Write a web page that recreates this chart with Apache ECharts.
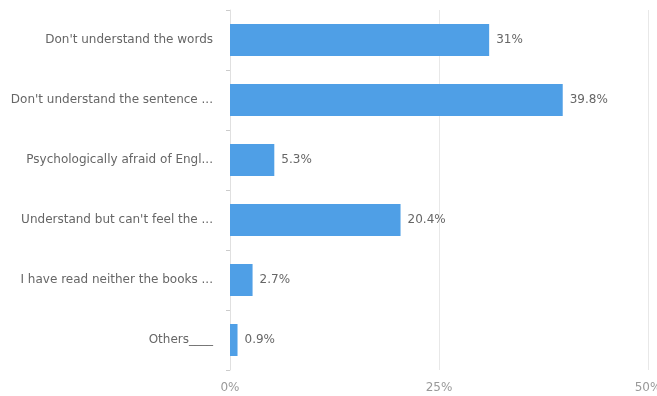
<!DOCTYPE html>
<html><head><meta charset="utf-8">
<script src="https://cdn.jsdelivr.net/npm/echarts@6/dist/echarts.min.js"></script>
<style>html,body{margin:0;padding:0;background:#fff}#c{width:657px;height:396px}</style>
</head><body><div id="c"></div>
<script>
var categories = ["Don't understand the words", "Don't understand the sentence ...", "Psychologically afraid of Engl...", "Understand but can't feel the ...", "I have read neither the books ...", "Others____"];
var values = [31, 39.8, 5.3, 20.4, 2.7, 0.9];
var xTicks = [0, 25, 50];

var chart = echarts.init(document.getElementById('c'));
chart.setOption({
  animation: false,
  grid: {left: 230, right: 9, top: 10, bottom: 26, containLabel: false, outerBoundsMode: 'none'},
  xAxis: {
    type: 'value', min: xTicks[0], max: xTicks[xTicks.length-1], interval: xTicks[1]-xTicks[0],
    axisLine: {show: false}, axisTick: {show: false},
    axisLabel: {formatter: '{value}%', color: '#999', fontFamily: 'DejaVu Sans', fontSize: 12, margin: 12},
    splitLine: {show: true, lineStyle: {color: '#e8e8e8'}}
  },
  yAxis: {
    type: 'category', data: categories, inverse: true,
    axisLine: {show: true, lineStyle: {color: '#e0e0e0'}},
    axisTick: {show: true, length: 4, lineStyle: {color: '#ccc'}},
    axisLabel: {color: '#666', fontFamily: 'DejaVu Sans', fontSize: 12, margin: 17}
  },
  series: [{
    type: 'bar', data: values, barWidth: 32,
    itemStyle: {color: '#4f9fe6'},
    label: {show: true, position: 'right', distance: 7, formatter: '{c}%', color: '#666', fontFamily: 'DejaVu Sans', fontSize: 12}
  }]
});
</script></body></html>
